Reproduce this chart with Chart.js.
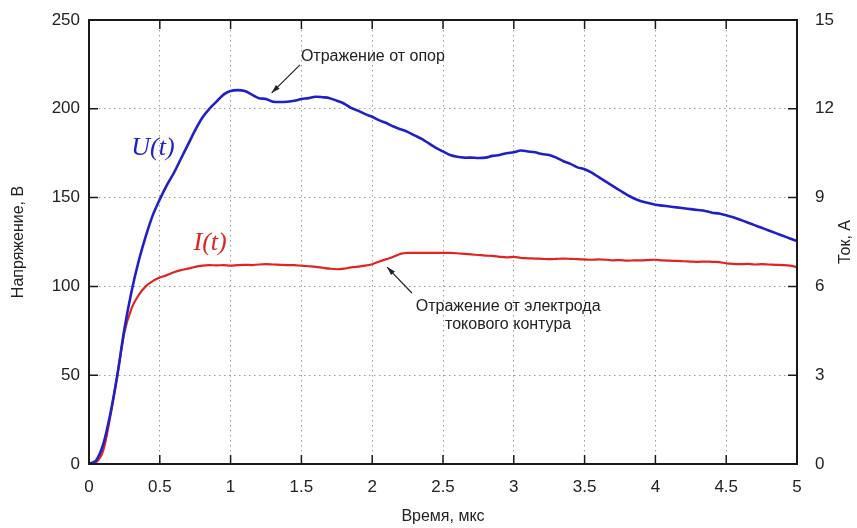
<!DOCTYPE html>
<html>
<head>
<meta charset="utf-8">
<script src="https://cdn.jsdelivr.net/npm/chart.js@4"></script>
<style>
  body { margin: 0; background: #fff; }
  #wrap { width: 857px; height: 528px; }
</style>
</head>
<body>
<div id="wrap"><canvas id="chart" width="857" height="528"></canvas></div>
<script>
// --- DATA ---
const timeUs = [
  0, 0.05, 0.1, 0.15, 0.2, 0.25, 0.3, 0.35, 0.4, 0.45,
  0.5, 0.55, 0.6, 0.65, 0.7, 0.75, 0.8, 0.85, 0.9, 0.95,
  1, 1.05, 1.1, 1.15, 1.2, 1.25, 1.3, 1.35, 1.4, 1.45,
  1.5, 1.55, 1.6, 1.65, 1.7, 1.75, 1.8, 1.85, 1.9, 1.95,
  2, 2.05, 2.1, 2.15, 2.2, 2.25, 2.3, 2.35, 2.4, 2.45,
  2.5, 2.55, 2.6, 2.65, 2.7, 2.75, 2.8, 2.85, 2.9, 2.95,
  3, 3.05, 3.1, 3.15, 3.2, 3.25, 3.3, 3.35, 3.4, 3.45,
  3.5, 3.55, 3.6, 3.65, 3.7, 3.75, 3.8, 3.85, 3.9, 3.95,
  4, 4.05, 4.1, 4.15, 4.2, 4.25, 4.3, 4.35, 4.4, 4.45,
  4.5, 4.55, 4.6, 4.65, 4.7, 4.75, 4.8, 4.85, 4.9, 4.95,
  5
];

// U(t), V
const voltage = [
  0, 2, 11, 28, 50, 76, 97, 114, 128, 140,
  149, 157, 164, 172, 180, 188, 195, 200, 204, 208,
  210, 210.5, 210, 208, 206, 205.5, 204, 203.8, 204, 204.5,
  205.5, 206, 206.8, 206.5, 206, 204.5, 203, 200.5, 199, 197,
  195.5, 193.5, 192, 190, 188.5, 187, 185, 183, 180.5, 178,
  176, 174, 173, 172.5, 172.5, 172.3, 172.5, 173.5, 174, 175,
  175.5, 176.5, 176, 175.5, 174.5, 174, 172.5, 170.5, 169, 167,
  166, 164, 161.5, 159, 156.5, 154, 151.5, 149.5, 148, 147,
  146, 145.5, 145, 144.5, 144, 143.5, 143, 142.5, 141.5, 141,
  140, 139, 137.5, 136, 134.5, 133, 131.5, 130, 128.5, 127,
  125.5
];

// I(t), A
const current = [
  0, 0.05, 0.45, 1.6, 3.0, 4.45, 5.25, 5.7, 6.0, 6.18,
  6.3, 6.38, 6.48, 6.55, 6.6, 6.66, 6.7, 6.72, 6.71, 6.72,
  6.7, 6.72, 6.73, 6.72, 6.74, 6.75, 6.74, 6.73, 6.72, 6.72,
  6.7, 6.68, 6.66, 6.63, 6.6, 6.58, 6.6, 6.64, 6.67, 6.7,
  6.75, 6.84, 6.92, 7.0, 7.1, 7.13, 7.13, 7.13, 7.13, 7.13,
  7.13, 7.13, 7.12, 7.1, 7.08, 7.06, 7.04, 7.03, 7.0, 6.98,
  7.0, 6.96, 6.95, 6.94, 6.93, 6.92, 6.93, 6.94, 6.93, 6.92,
  6.91, 6.9, 6.91, 6.9, 6.88, 6.89, 6.87, 6.88, 6.88, 6.89,
  6.9, 6.88, 6.87, 6.86, 6.85, 6.84, 6.83, 6.84, 6.83, 6.82,
  6.78, 6.76, 6.75, 6.76, 6.74, 6.75, 6.74, 6.73, 6.72, 6.7,
  6.65
];

const xTicks = ['0', '0.5', '1', '1.5', '2', '2.5', '3', '3.5', '4', '4.5', '5'];
const voltTicks = ['0', '50', '100', '150', '200', '250'];
const currentTicks = ['0', '3', '6', '9', '12', '15'];

const BLUE = '#2020c8';
const RED = '#e02424';
const FONT = "'Liberation Sans', Arial, sans-serif";

// annotation text and arrows, in data units (time, volts)
const notes = [
  { lines: ['Отражение от опор'], at: [2.005, 229.5], tip: [1.29, 209], tail: [1.49, 224.7] },
  { lines: ['Отражение от электрода', 'токового контура'], at: [2.96, 88.4], tip: [2.105, 110.9], tail: [2.28, 96.3] }
];

const seriesLabels = [
  { text: 'U(t)', at: [0.452, 177.9], color: BLUE },
  { text: 'I(t)', at: [0.855, 124.4], color: RED }
];

// --- FRAME, INWARD TICKS, TITLES, NOTES ---
const framePlugin = {
  id: 'frame',
  afterDatasetsDraw(chart) {
    const ctx = chart.ctx;
    const xs = chart.scales.x, ys = chart.scales.y;
    ctx.save();

    ctx.textAlign = 'center';
    ctx.textBaseline = 'middle';
    seriesLabels.forEach(l => {
      ctx.font = "italic 26px 'Liberation Serif', 'Times New Roman', serif";
      ctx.fillStyle = l.color;
      ctx.fillText(l.text, xs.getPixelForValue(l.at[0]), ys.getPixelForValue(l.at[1]));
    });

    ctx.font = '16px ' + FONT;
    ctx.fillStyle = '#222';
    ctx.strokeStyle = '#222';
    ctx.lineWidth = 1.2;
    notes.forEach(n => {
      const cx = xs.getPixelForValue(n.at[0]), cy = ys.getPixelForValue(n.at[1]);
      n.lines.forEach((t, i) => ctx.fillText(t, cx, cy + i * 18));
      const x1 = xs.getPixelForValue(n.tail[0]), y1 = ys.getPixelForValue(n.tail[1]);
      const x2 = xs.getPixelForValue(n.tip[0]), y2 = ys.getPixelForValue(n.tip[1]);
      ctx.beginPath(); ctx.moveTo(x1, y1); ctx.lineTo(x2, y2); ctx.stroke();
      const a = Math.atan2(y2 - y1, x2 - x1);
      ctx.beginPath();
      ctx.moveTo(x2, y2);
      ctx.lineTo(x2 - 9 * Math.cos(a - 0.3), y2 - 9 * Math.sin(a - 0.3));
      ctx.lineTo(x2 - 9 * Math.cos(a + 0.3), y2 - 9 * Math.sin(a + 0.3));
      ctx.closePath(); ctx.fill();
    });
    ctx.restore();
  },
  afterDraw(chart) {
    const ctx = chart.ctx;
    const { left, right, top, bottom } = chart.chartArea;
    const xs = chart.scales.x, ys = chart.scales.y, y1 = chart.scales.y1;
    ctx.save();
    ctx.strokeStyle = '#1a1a1a';
    ctx.lineWidth = 1.5;
    ctx.beginPath();
    xs.ticks.forEach(t => {
      const p = xs.getPixelForValue(t.value);
      ctx.moveTo(p, bottom); ctx.lineTo(p, bottom - 9);
      ctx.moveTo(p, top); ctx.lineTo(p, top + 9);
    });
    ys.ticks.forEach(t => {
      const p = ys.getPixelForValue(t.value);
      ctx.moveTo(left, p); ctx.lineTo(left + 9, p);
    });
    y1.ticks.forEach(t => {
      const p = y1.getPixelForValue(t.value);
      ctx.moveTo(right, p); ctx.lineTo(right - 9, p);
    });
    ctx.stroke();
    ctx.lineWidth = 2;
    ctx.strokeRect(left, top, right - left, bottom - top);

    // axis titles
    ctx.fillStyle = '#222';
    ctx.font = '16px ' + FONT;
    ctx.textAlign = 'center';
    ctx.textBaseline = 'middle';
    ctx.fillText('Время, мкс', (left + right) / 2, 517);
    const midY = (top + bottom) / 2;
    ctx.translate(19, midY); ctx.rotate(-Math.PI / 2);
    ctx.fillText('Напряжение, В', 0, 0);
    ctx.setTransform(1, 0, 0, 1, 0, 0);
    ctx.translate(846, midY); ctx.rotate(-Math.PI / 2);
    ctx.fillText('Ток, А', 0, 0);
    ctx.restore();
  }
};

// --- CHART ---
const gridOpts = { color: '#9a9a9a', lineWidth: 1, drawTicks: false };
const tickFont = { family: FONT, size: 17 };

// fixed axis sizes so the plot box lands at the same place every time
function fixVertical(width) {
  return s => { s.width = width; s.paddingTop = 0; s.paddingBottom = 0; };
}

new Chart(document.getElementById('chart'), {
  type: 'line',
  data: {
    datasets: [
      {
        label: 'U(t)',
        data: timeUs.map((t, i) => ({ x: t, y: voltage[i] })),
        borderColor: BLUE, borderWidth: 2.6, pointRadius: 0, tension: 0.3,
        yAxisID: 'y'
      },
      {
        label: 'I(t)',
        data: timeUs.map((t, i) => ({ x: t, y: current[i] })),
        borderColor: RED, borderWidth: 2.2, pointRadius: 0, tension: 0.3,
        yAxisID: 'y1'
      }
    ]
  },
  options: {
    responsive: false,
    animation: false,
    layout: { padding: { top: 20, left: 0, right: 0, bottom: 0 } },
    plugins: { legend: { display: false }, tooltip: { enabled: false } },
    scales: {
      x: {
        type: 'linear', min: 0, max: 5,
        ticks: { stepSize: 0.5, color: '#222', font: tickFont, padding: 13, maxRotation: 0,
                 callback: (v, i) => xTicks[i] },
        grid: gridOpts,
        border: { display: false, dash: [1.5, 3.5] },
        afterFit: s => { s.height = 64; s.paddingLeft = 0; s.paddingRight = 0; }
      },
      y: {
        position: 'left', min: 0, max: 250,
        ticks: { stepSize: 50, color: '#222', font: tickFont, padding: 9,
                 callback: (v, i) => voltTicks[i] },
        grid: gridOpts,
        border: { display: false, dash: [1.5, 3.5] },
        afterFit: fixVertical(89)
      },
      y1: {
        position: 'right', min: 0, max: 15,
        ticks: { stepSize: 3, color: '#222', font: tickFont, padding: 18,
                 callback: (v, i) => currentTicks[i] },
        grid: { drawOnChartArea: false, drawTicks: false },
        border: { display: false },
        afterFit: fixVertical(60)
      }
    }
  },
  plugins: [framePlugin]
});
</script>
</body>
</html>
